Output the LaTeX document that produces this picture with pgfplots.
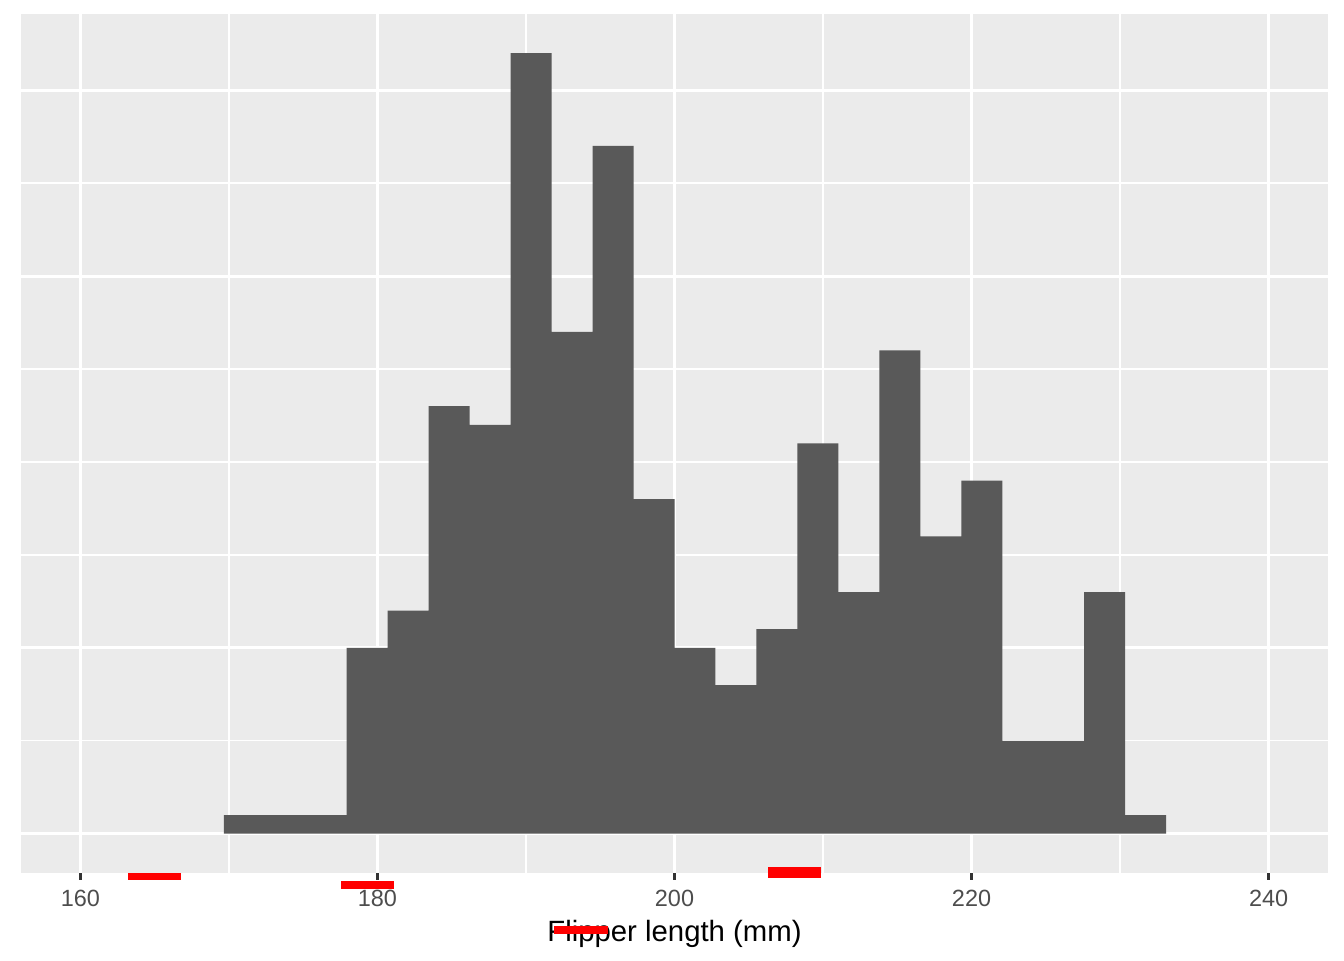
\documentclass[border=0pt]{standalone}
\usepackage{fontspec}
\setmainfont{Liberation Sans}
\usepackage{pgfplots}
\pgfplotsset{compat=1.18}
\definecolor{panelbg}{HTML}{EBEBEB}
\definecolor{barfill}{HTML}{595959}
\definecolor{ticklab}{HTML}{4D4D4D}
\definecolor{tickcol}{HTML}{333333}

\begin{document}
\begin{tikzpicture}
\begin{axis}[
  at={(0,0)}, anchor=south west,
  width=490.1pt, height=322pt, scale only axis,
  xmin=156, xmax=244, ymin=-2.1, ymax=44.1,
  xtick={160,180,200,220,240},
  minor xtick={170,190,210,230},
  ytick={0,10,20,30,40},
  minor ytick={5,15,25,35},
  yticklabels={},
  grid=both,
  major grid style={white, line width=1.07pt},
  minor grid style={white, line width=0.53pt},
  axis background/.style={fill=panelbg},
  axis line style={draw=none},
  major tick length=0pt,
  minor tick length=0pt,
  /pgf/number format/assume math mode=true,
  xticklabel style={font=\fontsize{8.8}{10}\selectfont, text=ticklab,
    anchor=base, inner sep=0pt, yshift=-12.5pt},
  xlabel={Flipper length (mm)},
  xlabel style={font=\fontsize{11}{13}\selectfont, text=black,
    at={(axis description cs:0.5,0)}, anchor=base, inner sep=0pt, yshift=-25.6pt},
]
% histogram, 30 bins over 160-240 (width 80/29); bin edges and counts
\addplot[ybar interval, fill=barfill, draw=none] coordinates {
  (169.65517,1) (172.41379,1) (175.17241,1) (177.93103,10)
  (180.68966,12) (183.44828,23) (186.20690,22) (188.96552,42)
  (191.72414,27) (194.48276,37) (197.24138,18) (200.00000,10)
  (202.75862,8) (205.51724,11) (208.27586,21) (211.03448,13)
  (213.79310,26) (216.55172,16) (219.31034,19) (222.06897,5)
  (224.82759,5) (227.58621,13) (230.34483,1) (233.10345,0)
};
\end{axis}
% test marks below the panel
\fill[red] (40pt,0pt) rectangle (60pt,-2.75pt);
\fill[red] (120pt,-3pt) rectangle (140pt,-6pt);
\fill[red] (200pt,-20pt) rectangle (220pt,-23pt);
\fill[red] (280pt,2pt) rectangle (300pt,-2pt);
\foreach \i in {0,...,4}
  \fill[tickcol] ({22.277pt+\i*111.386pt-0.55pt},0pt) rectangle ({22.277pt+\i*111.386pt+0.55pt},-2.75pt);
\pgfresetboundingbox
\useasboundingbox (-7.875pt,-32.74pt) rectangle (496.1pt,327.25pt);
\end{tikzpicture}
\end{document}
